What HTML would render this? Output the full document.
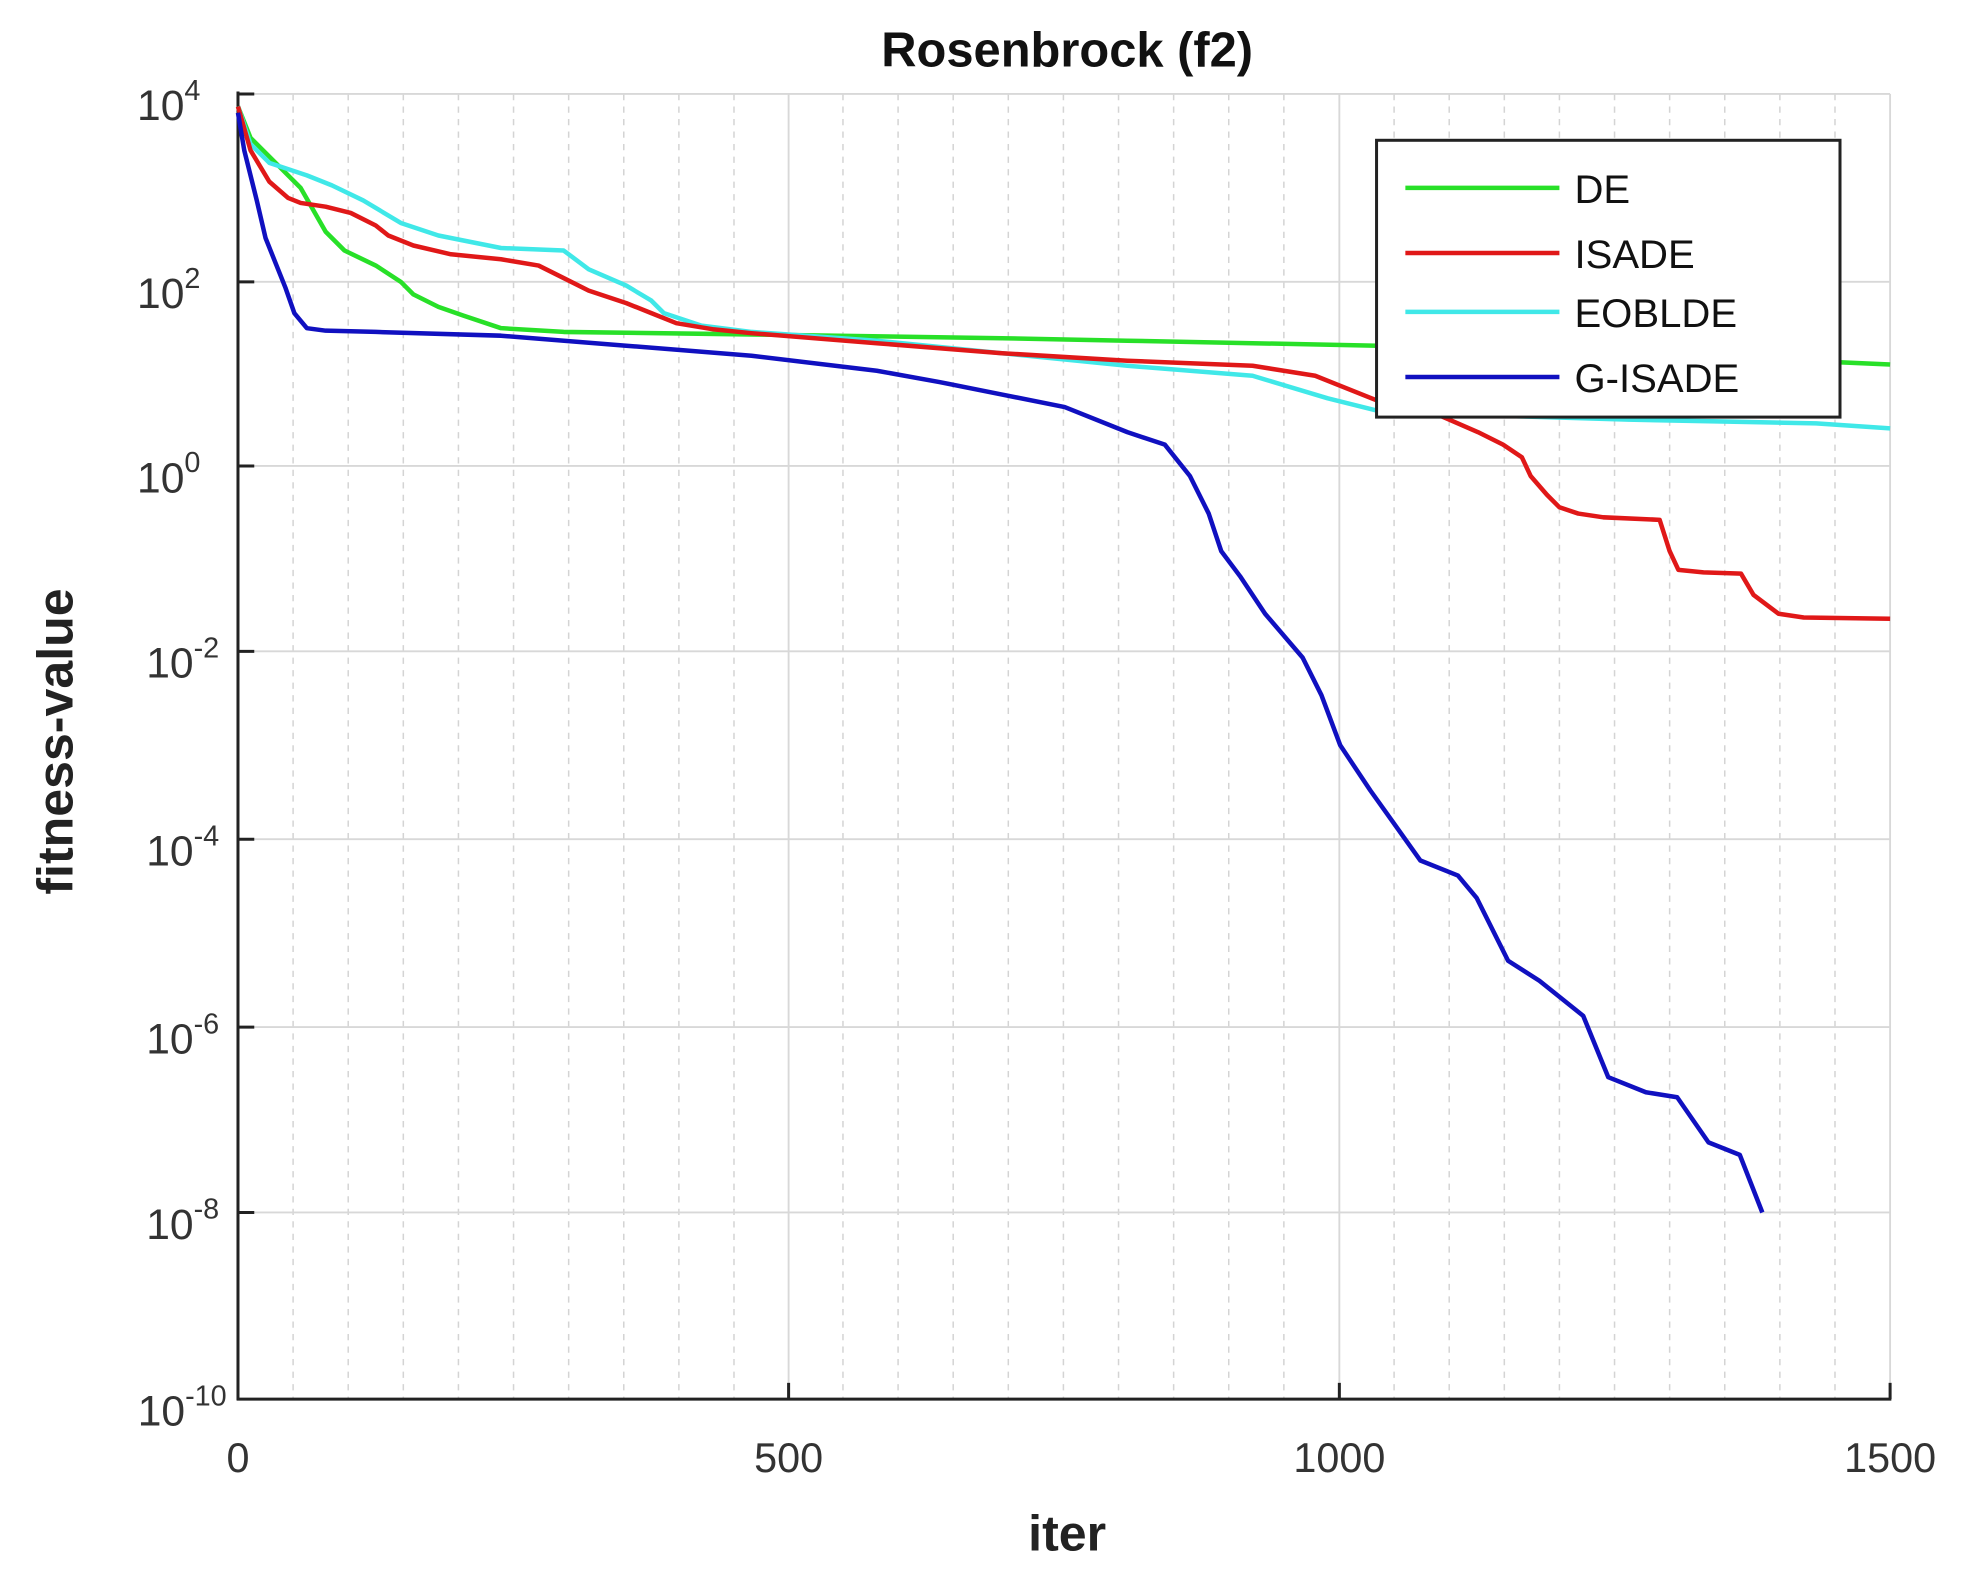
<!DOCTYPE html>
<html><head><meta charset="utf-8"><style>
html,body{margin:0;padding:0;background:#fff;}
svg{display:block;}
text{font-family:"Liberation Sans",Arial,sans-serif;}
</style></head><body>
<svg width="1964" height="1579" viewBox="0 0 1568 1260.6" preserveAspectRatio="none" xmlns="http://www.w3.org/2000/svg">
<rect width="1568" height="1261" fill="#fff"/>
<g stroke="#d4d4d4" stroke-width="1.2" stroke-dasharray="5,5">
<line x1="234" y1="75" x2="234" y2="1117"/><line x1="278" y1="75" x2="278" y2="1117"/><line x1="322" y1="75" x2="322" y2="1117"/><line x1="366" y1="75" x2="366" y2="1117"/><line x1="410" y1="75" x2="410" y2="1117"/><line x1="454" y1="75" x2="454" y2="1117"/><line x1="498" y1="75" x2="498" y2="1117"/><line x1="542" y1="75" x2="542" y2="1117"/><line x1="586" y1="75" x2="586" y2="1117"/>
<line x1="673" y1="75" x2="673" y2="1117"/><line x1="717" y1="75" x2="717" y2="1117"/><line x1="761" y1="75" x2="761" y2="1117"/><line x1="805" y1="75" x2="805" y2="1117"/><line x1="849" y1="75" x2="849" y2="1117"/><line x1="893" y1="75" x2="893" y2="1117"/><line x1="937" y1="75" x2="937" y2="1117"/><line x1="981" y1="75" x2="981" y2="1117"/><line x1="1025" y1="75" x2="1025" y2="1117"/>
<line x1="1113" y1="75" x2="1113" y2="1117"/><line x1="1157" y1="75" x2="1157" y2="1117"/><line x1="1201" y1="75" x2="1201" y2="1117"/><line x1="1245" y1="75" x2="1245" y2="1117"/><line x1="1289" y1="75" x2="1289" y2="1117"/><line x1="1333" y1="75" x2="1333" y2="1117"/><line x1="1377" y1="75" x2="1377" y2="1117"/><line x1="1421" y1="75" x2="1421" y2="1117"/><line x1="1465" y1="75" x2="1465" y2="1117"/>
</g>
<g stroke="#d8d8d8" stroke-width="1.5">
<line x1="629.6" y1="75" x2="629.6" y2="1117"/><line x1="1069.3" y1="75" x2="1069.3" y2="1117"/><line x1="1509" y1="75" x2="1509" y2="1117"/>
<line x1="190" y1="75" x2="1509" y2="75"/><line x1="190" y1="225" x2="1509" y2="225"/><line x1="190" y1="372" x2="1509" y2="372"/><line x1="190" y1="520" x2="1509" y2="520"/><line x1="190" y1="670" x2="1509" y2="670"/><line x1="190" y1="820" x2="1509" y2="820"/><line x1="190" y1="968" x2="1509" y2="968"/>
</g>
<g stroke="#222" stroke-width="2.4" fill="none">
<line x1="190" y1="73" x2="190" y2="1118"/><line x1="189" y1="1117" x2="1510" y2="1117"/>
<line x1="190" y1="75" x2="203" y2="75"/><line x1="190" y1="225" x2="203" y2="225"/><line x1="190" y1="372" x2="203" y2="372"/><line x1="190" y1="520" x2="203" y2="520"/><line x1="190" y1="670" x2="203" y2="670"/><line x1="190" y1="820" x2="203" y2="820"/><line x1="190" y1="968" x2="203" y2="968"/>
<line x1="629.6" y1="1117" x2="629.6" y2="1104"/><line x1="1069.3" y1="1117" x2="1069.3" y2="1104"/><line x1="1509" y1="1117" x2="1509" y2="1104"/>
</g>
<g fill="none" stroke-width="3.6" stroke-linejoin="round">
<polyline stroke="#28e028" points="190,85 200,110 220,130 240,150 260,185 275,200 300,212 320,225 330,235 350,245 370,252 400,262 450,265 600,267 800,270 900,272 1000,274 1100,276 1200,280 1350,284 1509,291"/>
<polyline stroke="#40e8e8" points="190,85 200,115 215,130 230,135 245,140 265,148 290,160 320,178 350,188 400,198 450,200 470,215 500,228 520,240 530,250 560,260 600,265 700,272 800,282 900,292 1000,300 1060,318 1100,328 1200,332 1300,335 1450,338 1509,342"/>
<polyline stroke="#e01818" points="190,85 200,120 215,145 230,158 240,162 260,165 280,170 300,180 310,188 330,196 360,203 400,207 430,212 450,222 470,232 500,242 520,250 540,258 570,263 600,266 700,274 800,282 900,288 1000,292 1050,300 1100,320 1150,332 1180,345 1200,355 1215,365 1222,380 1235,395 1245,405 1260,410 1280,413 1325,415 1333,440 1340,455 1360,457 1390,458 1400,475 1420,490 1440,493 1509,494"/>
<polyline stroke="#1010c0" points="190,90 195,120 205,160 212,190 220,210 228,230 235,250 245,262 260,264 300,265 400,268 500,276 600,284 700,296 750,305 800,315 850,325 900,345 930,355 950,380 965,410 975,440 990,460 1010,490 1040,525 1055,555 1070,595 1094,631 1134,687 1164,699 1179,717 1204,767 1229,783 1264,811 1284,860 1314,872 1339,876 1364,912 1389,922 1407,968"/>
</g>
<rect x="1099" y="112" width="370" height="221" fill="#fff" stroke="#222" stroke-width="2.4"/>
<g stroke-width="3.6">
<line x1="1122" y1="150" x2="1245" y2="150" stroke="#28e028"/>
<line x1="1122" y1="202" x2="1245" y2="202" stroke="#e01818"/>
<line x1="1122" y1="249" x2="1245" y2="249" stroke="#40e8e8"/>
<line x1="1122" y1="301" x2="1245" y2="301" stroke="#1010c0"/>
</g>
<g font-size="32" fill="#111">
<text x="1257" y="162">DE</text><text x="1257" y="214">ISADE</text><text x="1257" y="261">EOBLDE</text><text x="1257" y="313">G-ISADE</text>
</g>
<g font-size="34" fill="#333" text-anchor="end">
<text x="160" y="96">10<tspan dy="-16" font-size="23">4</tspan></text>
<text x="160" y="246">10<tspan dy="-16" font-size="23">2</tspan></text>
<text x="160" y="393">10<tspan dy="-16" font-size="23">0</tspan></text>
<text x="175" y="541">10<tspan dy="-16" font-size="23">-2</tspan></text>
<text x="175" y="691">10<tspan dy="-16" font-size="23">-4</tspan></text>
<text x="175" y="841">10<tspan dy="-16" font-size="23">-6</tspan></text>
<text x="175" y="989">10<tspan dy="-16" font-size="23">-8</tspan></text>
<text x="181" y="1138">10<tspan dy="-16" font-size="23">-10</tspan></text>
</g>
<g font-size="33" fill="#333" text-anchor="middle">
<text x="190" y="1175">0</text><text x="629.6" y="1175">500</text><text x="1069.3" y="1175">1000</text><text x="1509" y="1175">1500</text>
</g>
<text x="852" y="1238" font-size="40" font-weight="bold" text-anchor="middle" fill="#222">iter</text>
<text transform="translate(58,592) rotate(-90)" font-size="40" font-weight="bold" text-anchor="middle" fill="#222">fitness-value</text>
<text x="852" y="53" font-size="39" font-weight="bold" text-anchor="middle" fill="#111">Rosenbrock (f2)</text>
</svg>
</body></html>
